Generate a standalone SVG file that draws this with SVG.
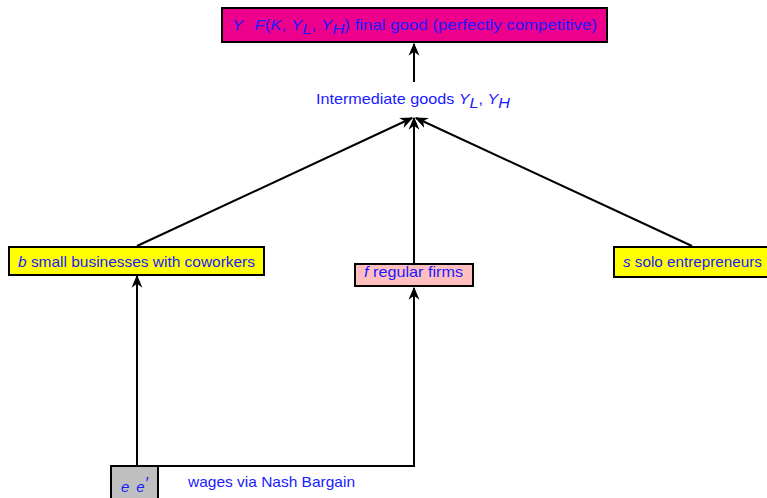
<svg xmlns="http://www.w3.org/2000/svg" width="767" height="498" viewBox="0 0 767 498">
  <defs>
    <marker id="arrow" viewBox="0 0 10 10" refX="9" refY="5" markerWidth="13" markerHeight="13" markerUnits="userSpaceOnUse" orient="auto">
      <path d="M0,0.8 L10,5 L0,9.2 L3,5 Z" fill="#000"/>
    </marker>
    <style>
      .box { stroke: #000; stroke-width: 2; }
      .lbl { font-family: "Liberation Sans", Arial, sans-serif; font-size: 15px; fill: #1a1aff; }
      .m { font-style: italic; }
      .edge { fill: none; stroke: #000; stroke-width: 2; marker-end: url(#arrow); }
    </style>
  </defs>

  <rect width="767" height="498" fill="#fff"/>

  <g id="connectors">
    <line class="edge" x1="414" y1="82" x2="414" y2="44"/>
    <line class="edge" x1="137" y1="246" x2="412" y2="118"/>
    <line class="edge" x1="414" y1="263" x2="414" y2="118"/>
    <line class="edge" x1="692" y1="246" x2="416" y2="118"/>
    <line class="edge" x1="137" y1="466" x2="137" y2="276"/>
    <polyline class="edge" points="137,466 414,466 414,288"/>
  </g>

  <g id="final-good">
    <rect class="box" x="222" y="8" width="385" height="34" fill="#ec008c"/>
    <text class="lbl" x="232" y="30" textLength="365" lengthAdjust="spacingAndGlyphs"><tspan class="m">Y</tspan><tspan class="m" dx="10">F</tspan>(<tspan class="m">K</tspan>, <tspan class="m">Y</tspan><tspan class="m" dy="4">L</tspan><tspan dy="-4">, </tspan><tspan class="m">Y</tspan><tspan class="m" dy="4">H</tspan><tspan dy="-4">) final good (perfectly competitive)</tspan></text>
  </g>

  <g id="intermediate">
    <text class="lbl" x="316" y="104" textLength="194" lengthAdjust="spacingAndGlyphs">Intermediate goods <tspan class="m">Y</tspan><tspan class="m" dy="4">L</tspan><tspan dy="-4">, </tspan><tspan class="m">Y</tspan><tspan class="m" dy="4">H</tspan></text>
  </g>

  <g id="small-businesses">
    <rect class="box" x="9" y="247" width="255" height="28" fill="#ffff00"/>
    <text class="lbl" x="18" y="267" textLength="237" lengthAdjust="spacingAndGlyphs"><tspan class="m">b</tspan> small businesses with coworkers</text>
  </g>

  <g id="regular-firms">
    <rect class="box" x="355" y="264" width="118" height="22" fill="#ffbfbf"/>
    <text class="lbl" x="364" y="277" textLength="99" lengthAdjust="spacingAndGlyphs"><tspan class="m">f</tspan> regular firms</text>
  </g>

  <g id="solo-entrepreneurs">
    <rect class="box" x="614" y="247" width="160" height="30" fill="#ffff00"/>
    <text class="lbl" x="623" y="267" textLength="139" lengthAdjust="spacingAndGlyphs"><tspan class="m">s</tspan> solo entrepreneurs</text>
  </g>

  <g id="workers">
    <rect class="box" x="111" y="466" width="47" height="40" fill="#bfbfbf"/>
    <text class="lbl m" x="121" y="492">e<tspan dx="7">e</tspan><tspan dy="-3" font-size="17">′</tspan></text>
  </g>

  <g id="wages">
    <text class="lbl" x="188" y="487" textLength="167" lengthAdjust="spacingAndGlyphs">wages via Nash Bargain</text>
  </g>
</svg>
